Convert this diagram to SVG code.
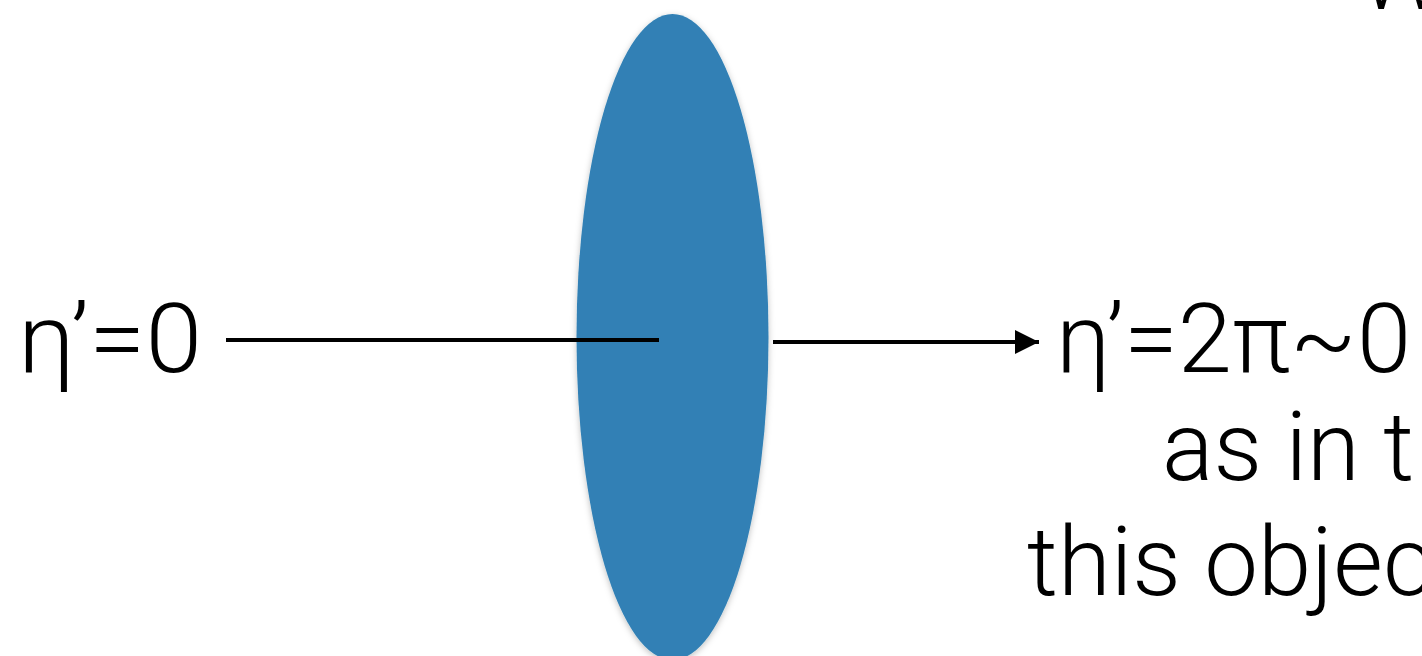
<svg xmlns="http://www.w3.org/2000/svg" width="1422" height="656" viewBox="0 0 1422 656">
  <defs>
    <style>
      .t { font-family: Roboto, "Liberation Sans", sans-serif; font-weight: 300; font-size: 96px; fill: #000; }
      .c { stroke: #000; stroke-width: 4; fill: none; }
    </style>
    <filter id="sh" x="-20%" y="-5%" width="140%" height="110%">
      <feDropShadow dx="0" dy="2" stdDeviation="3" flood-color="#000" flood-opacity="0.25"/>
    </filter>
    <marker id="ah" markerWidth="24" markerHeight="24" refX="24" refY="12" orient="auto" markerUnits="userSpaceOnUse">
      <path d="M0,0 L24,12 L0,24 Z" fill="#000"/>
    </marker>
  </defs>
  <rect width="1422" height="656" fill="#fff"/>
  <g id="lens">
    <ellipse cx="672.5" cy="337" rx="96" ry="323" fill="#3080b5" filter="url(#sh)"/>
  </g>
  <g id="connectors">
    <line class="c" x1="226" y1="340" x2="659" y2="340"/>
    <line class="c" x1="773" y1="342" x2="1039" y2="342" marker-end="url(#ah)"/>
  </g>
  <g id="left-label">
    <text class="t" x="18" y="372" textLength="184" lengthAdjust="spacingAndGlyphs">η’=0</text>
  </g>
  <g id="right-label">
    <text class="t" x="1056" y="372" textLength="355" lengthAdjust="spacingAndGlyphs">η’=2π~0</text>
    <text class="t" x="1162" y="480">as in t</text>
    <text class="t" x="1027" y="595">this objec</text>
  </g>
  <g id="top-label">
    <text class="t" x="1358" y="9">W</text>
  </g>
</svg>
